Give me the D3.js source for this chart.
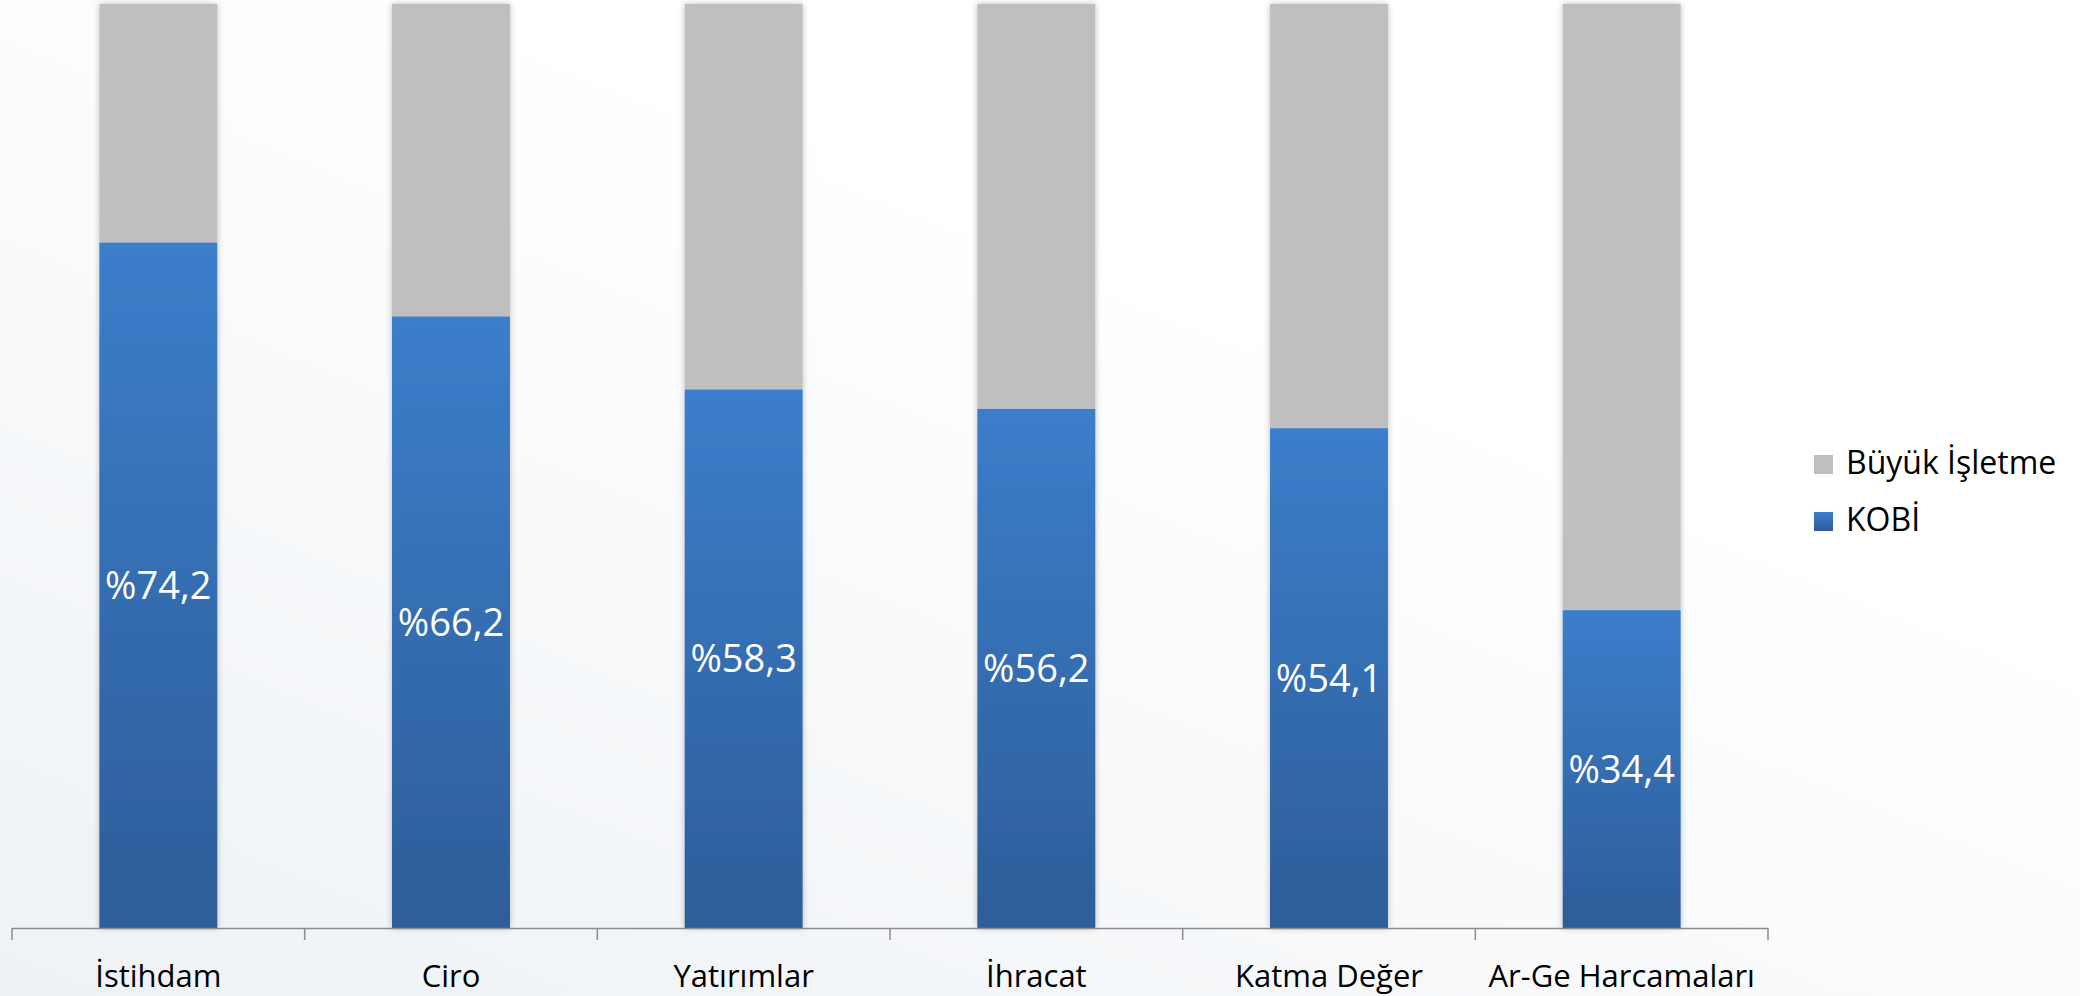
<!DOCTYPE html>
<html>
<head>
<meta charset="utf-8">
<script src="https://cdn.jsdelivr.net/npm/d3@7"></script>
<style>
  html, body { margin: 0; padding: 0; background: #fff; }
  svg { display: block; font-family: "Open Sans", "Noto Sans", sans-serif; }
</style>
</head>
<body>
<svg id="chart" width="2080" height="996"></svg>
<script>
// chart data
var categories = ["İstihdam", "Ciro", "Yatırımlar", "İhracat", "Katma Değer", "Ar-Ge Harcamaları"];
var kobi = [74.2, 66.2, 58.3, 56.2, 54.1, 34.4];
var buyuk = [25.8, 33.8, 41.7, 43.8, 45.9, 65.6];
var seriesNames = ["Büyük İşletme", "KOBİ"];

var svg = d3.select("#chart");
var W = 2080, H = 996;
var plot = { left: 12, right: 1768, top: 4, bottom: 928 };

var defs = svg.append("defs");

var blueGrad = defs.append("linearGradient")
  .attr("id", "blueGrad")
  .attr("x1", 0).attr("y1", 0).attr("x2", 0).attr("y2", 1);
blueGrad.append("stop").attr("offset", "0%").attr("stop-color", "#3b7ecb");
blueGrad.append("stop").attr("offset", "100%").attr("stop-color", "#2d5d98");

var bgGrad = defs.append("linearGradient")
  .attr("id", "bgGrad")
  .attr("x1", 0).attr("y1", 1).attr("x2", 0.6).attr("y2", 0.3);
bgGrad.append("stop").attr("offset", "0%").attr("stop-color", "#eef2f6");
bgGrad.append("stop").attr("offset", "100%").attr("stop-color", "#ffffff");

var shadow = defs.append("filter")
  .attr("id", "shadow")
  .attr("x", "-20%").attr("y", "-5%").attr("width", "140%").attr("height", "110%");
shadow.append("feDropShadow")
  .attr("dx", 0).attr("dy", 0)
  .attr("stdDeviation", 3)
  .attr("flood-color", "#000")
  .attr("flood-opacity", 0.25);

// faint background wash
svg.append("rect")
  .attr("width", W).attr("height", H)
  .attr("fill", "url(#bgGrad)");

var x = d3.scaleBand()
  .domain(categories)
  .range([plot.left, plot.right])
  .padding(0);

var y = d3.scaleLinear()
  .domain([0, 100])
  .range([plot.bottom, plot.top]);

var barW = x.bandwidth() * 0.403;

var rows = categories.map(function(c, i) {
  return { cat: c, kobi: kobi[i], buyuk: buyuk[i] };
});

var stack = d3.stack().keys(["kobi", "buyuk"]);
var layers = stack(rows);

var fills = { kobi: "url(#blueGrad)", buyuk: "#bfbfbf" };

var barGroups = svg.append("g").attr("class", "bars");

// one group per category so the shadow wraps the whole column
var cols = barGroups.selectAll("g.col")
  .data(rows)
  .enter().append("g")
  .attr("class", "col")
  .attr("filter", "url(#shadow)");

cols.each(function(d, i) {
  var g = d3.select(this);
  layers.forEach(function(layer) {
    var seg = layer[i];
    g.append("rect")
      .attr("x", x(d.cat) + (x.bandwidth() - barW) / 2)
      .attr("width", barW)
      .attr("y", y(seg[1]))
      .attr("height", y(seg[0]) - y(seg[1]))
      .attr("fill", fills[layer.key]);
  });
});

// value labels in the middle of the KOBİ segment
svg.append("g").selectAll("text")
  .data(layers[0])
  .enter().append("text")
  .attr("x", function(d) { return x(d.data.cat) + x.bandwidth() / 2; })
  .attr("y", function(d) { return (y(d[0]) + y(d[1])) / 2; })
  .attr("dy", "0.36em")
  .attr("text-anchor", "middle")
  .attr("fill", "#fff")
  .style("font-size", "38px")
  .text(function(d) { return "%" + String(d.data.kobi).replace(".", ","); });

// category axis with ticks between bands
var axisG = svg.append("g").attr("class", "axis");
axisG.append("line")
  .attr("x1", plot.left).attr("x2", plot.right)
  .attr("y1", plot.bottom + 0.5).attr("y2", plot.bottom + 0.5)
  .attr("stroke", "#8c8c8c").attr("stroke-width", 1.5);

var edges = categories.map(function(c) { return x(c); }).concat([plot.right]);
axisG.selectAll("line.tick")
  .data(edges)
  .enter().append("line")
  .attr("class", "tick")
  .attr("x1", function(d) { return d; }).attr("x2", function(d) { return d; })
  .attr("y1", plot.bottom).attr("y2", plot.bottom + 12)
  .attr("stroke", "#8c8c8c").attr("stroke-width", 1.5);

axisG.selectAll("text")
  .data(categories)
  .enter().append("text")
  .attr("x", function(d) { return x(d) + x.bandwidth() / 2; })
  .attr("y", 987)
  .attr("text-anchor", "middle")
  .attr("fill", "#000")
  .style("font-size", "31px")
  .text(function(d) { return d; });

// legend
var legendColors = ["#bfbfbf", "url(#blueGrad)"];
var legend = svg.append("g").attr("class", "legend")
  .attr("transform", "translate(1814,455)");
var items = legend.selectAll("g")
  .data(seriesNames)
  .enter().append("g")
  .attr("transform", function(d, i) { return "translate(0," + (i * 57) + ")"; });
items.append("rect")
  .attr("width", 19).attr("height", 19)
  .attr("fill", function(d, i) { return legendColors[i]; });
items.append("text")
  .attr("x", 32).attr("y", 19)
  .attr("fill", "#000")
  .style("font-size", "32px")
  .text(function(d) { return d; });
</script>
</body>
</html>
